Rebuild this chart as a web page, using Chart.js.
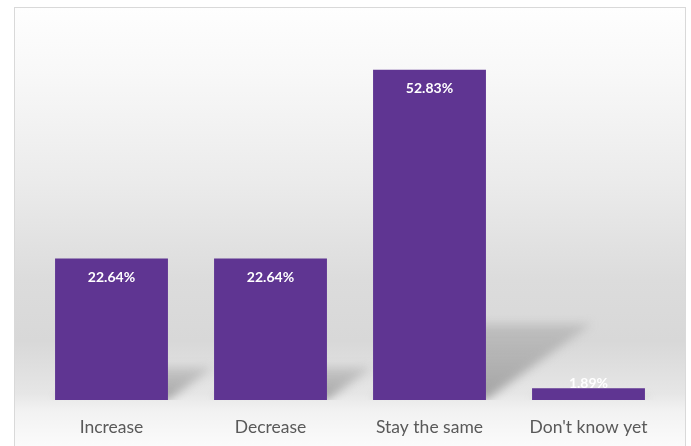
<!DOCTYPE html>
<html>
<head>
<meta charset="utf-8">
<script src="https://cdn.jsdelivr.net/npm/chart.js@4.4.1/dist/chart.umd.min.js"></script>
<style>
  html, body { margin: 0; padding: 0; background: #ffffff; }
  #wrap { width: 691px; height: 446px; position: relative; }
</style>
</head>
<body>
<div id="wrap"><canvas id="chart" width="691" height="446"></canvas></div>
<script>
// Survey answers and their shares (%)
const categories = ['Increase', 'Decrease', 'Stay the same', "Don't know yet"];
const shares = [22.64, 22.64, 52.83, 1.89];

const BAR_COLOR = '#5f3592';
const FONT = 'Lato, "Noto Sans", sans-serif';

// Frame with a soft vertical gradient behind everything
const framePlugin = {
  id: 'frame',
  beforeDraw(chart) {
    const ctx = chart.ctx;
    const x0 = 14.5, y0 = 7.5, x1 = 685.5, y1 = 460;
    const g = ctx.createLinearGradient(0, y0, 0, 446);
    g.addColorStop(0.00, '#fefefe');
    g.addColorStop(0.15, '#f8f8f8');
    g.addColorStop(0.40, '#ebebeb');
    g.addColorStop(0.62, '#dcdcdc');
    g.addColorStop(0.76, '#d8d8d8');
    g.addColorStop(0.88, '#e6e6e6');
    g.addColorStop(0.92, '#f2f2f2');
    g.addColorStop(1.00, '#fbfbfb');
    ctx.save();
    ctx.fillStyle = g;
    ctx.fillRect(x0, y0, x1 - x0, y1 - y0);
    ctx.strokeStyle = '#d9d9d9';
    ctx.lineWidth = 1;
    ctx.strokeRect(x0, y0, x1 - x0, y1 - y0);
    ctx.restore();
  }
};

// Perspective shadow cast by each bar, falling back to the right
const shadowPlugin = {
  id: 'barShadow',
  beforeDatasetsDraw(chart) {
    const ctx = chart.ctx;
    const area = chart.chartArea;
    const meta = chart.getDatasetMeta(0);
    ctx.save();
    ctx.beginPath();
    ctx.rect(area.left, area.top, area.right - area.left, area.bottom - area.top);
    ctx.clip();
    ctx.filter = 'blur(5px)';
    meta.data.forEach(bar => {
      const p = bar.getProps(['x', 'y', 'base', 'width'], true);
      const h = p.base - p.y;
      const left = p.x - p.width / 2, right = p.x + p.width / 2;
      const dx = h * 0.32, dy = h * 0.23;
      const g = ctx.createLinearGradient(0, p.base, 0, p.base - dy);
      g.addColorStop(0, 'rgba(115,115,115,0.6)');
      g.addColorStop(1, 'rgba(140,140,140,0.32)');
      ctx.fillStyle = g;
      ctx.beginPath();
      ctx.moveTo(left, p.base);
      ctx.lineTo(right, p.base);
      ctx.lineTo(right + dx, p.base - dy);
      ctx.lineTo(left + dx, p.base - dy);
      ctx.closePath();
      ctx.fill();
    });
    ctx.restore();
  }
};

// Value labels near the top of each bar
const valueLabelPlugin = {
  id: 'valueLabels',
  afterDatasetsDraw(chart) {
    const ctx = chart.ctx;
    const meta = chart.getDatasetMeta(0);
    const values = chart.data.datasets[0].data;
    ctx.save();
    ctx.fillStyle = '#ffffff';
    ctx.font = 'bold 14px ' + FONT;
    ctx.textAlign = 'center';
    ctx.textBaseline = 'middle';
    meta.data.forEach((bar, i) => {
      const p = bar.getProps(['x', 'y', 'base'], true);
      const h = p.base - p.y;
      const y = h > 30 ? p.y + 18.5 : p.y - 5;
      ctx.fillText(values[i].toFixed(2) + '%', p.x, y);
    });
    ctx.restore();
  }
};

new Chart(document.getElementById('chart'), {
  type: 'bar',
  data: {
    labels: categories,
    datasets: [{
      data: shares,
      backgroundColor: BAR_COLOR,
      borderWidth: 0,
      categoryPercentage: 1.0,
      barPercentage: 0.71
    }]
  },
  options: {
    responsive: false,
    animation: false,
    layout: { padding: { left: 32, right: 23, top: 25, bottom: 8 } },
    plugins: {
      legend: { display: false },
      tooltip: { enabled: false }
    },
    scales: {
      x: {
        grid: { display: false, drawTicks: false },
        border: { display: false },
        ticks: {
          color: '#595959',
          font: { family: FONT, size: 17.5 },
          padding: 17
        },
        afterFit(scale) { scale.height = 38; }
      },
      y: {
        display: false,
        min: 0,
        max: 60
      }
    }
  },
  plugins: [framePlugin, shadowPlugin, valueLabelPlugin]
});
</script>
</body>
</html>
